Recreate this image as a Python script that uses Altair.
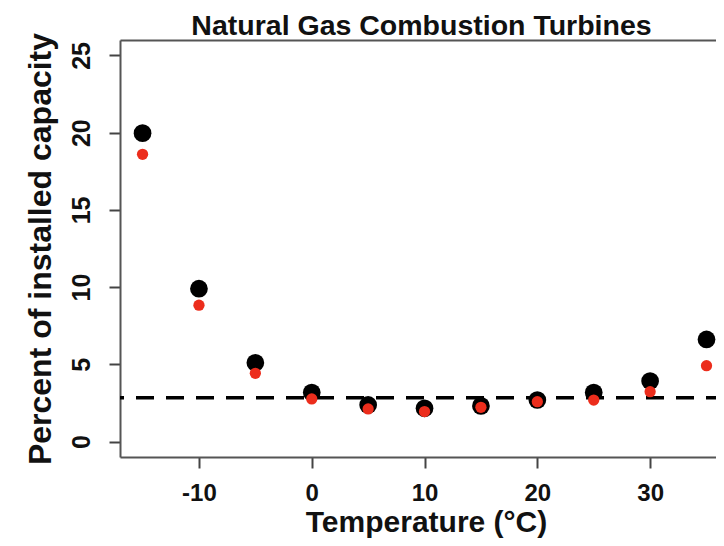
import altair as alt
import pandas as pd

# Data
temps = [-15, -10, -5, 0, 5, 10, 15, 20, 25, 30, 35]
black_vals = [19.97, 9.9, 5.1, 3.17, 2.37, 2.15, 2.31, 2.69, 3.17, 3.92, 6.61]
red_vals = [18.6, 8.83, 4.42, 2.76, 2.11, 1.94, 2.22, 2.58, 2.69, 3.23, 4.91]
baseline_val = [2.84]
x_ticks = [-10, 0, 10, 20, 30]
y_ticks = [0, 5, 10, 15, 20, 25]

df = pd.DataFrame({"temp": temps, "black": black_vals, "red": red_vals})
base_df = pd.DataFrame({"level": baseline_val})

FONT = "Liberation Sans"
AXIS_GRAY = "#555555"
TXT = "#111111"

xscale = alt.Scale(domain=[-17, 36.55], nice=False, zero=False)
yscale = alt.Scale(domain=[-1, 26], nice=False, zero=False)

x_bottom_axis = alt.Axis(
    values=x_ticks, orient="bottom", grid=False, title="Temperature (°C)",
    labelExpr="'' + datum.value",
    domainColor=AXIS_GRAY, domainWidth=2, tickColor="#444444", tickWidth=2, tickSize=11,
    labelFont=FONT, labelFontSize=24, labelFontWeight="bold", labelColor=TXT,
    labelPadding=13, labelBaseline="top", labelFlush=False,
    titleFont=FONT, titleFontSize=30, titleFontWeight="bold", titleColor=TXT,
    titleX=306, titleY=74, titleBaseline="alphabetic", titleAlign="center",
)

# top border of the box, carrying the chart title
x_top_axis = alt.Axis(
    orient="top", grid=False, labels=False, ticks=False,
    title="Natural Gas Combustion Turbines",
    domainColor=AXIS_GRAY, domainWidth=2,
    titleFont=FONT, titleFontSize=28.5, titleFontWeight="bold", titleColor=TXT,
    titleX=301, titleY=-6, titleBaseline="alphabetic", titleAlign="center",
)

y_axis = alt.Axis(
    orient="left", values=y_ticks, grid=False, title="Percent of installed capacity",
    domainColor=AXIS_GRAY, domainWidth=2, tickColor="#444444", tickWidth=2, tickSize=11,
    labelFont=FONT, labelFontSize=25, labelFontWeight="bold", labelColor=TXT,
    labelAngle=270, labelAlign="center", labelBaseline="alphabetic", labelPadding=20,
    titleFont=FONT, titleFontSize=32, titleFontWeight="bold", titleColor=TXT,
    titleAngle=270, titleX=-70, titleY=208.5, titleBaseline="alphabetic", titleAlign="center",
)

rule = alt.Chart(base_df).mark_rule(
    color="black", strokeWidth=3.5, strokeDash=[18, 12], strokeCap="butt"
).encode(
    y=alt.Y("level:Q", scale=yscale, axis=y_axis)
)

black_pts = alt.Chart(df).mark_circle(
    color="black", size=314, opacity=1
).encode(
    x=alt.X("temp:Q", scale=xscale, axis=x_bottom_axis),
    y=alt.Y("black:Q", scale=yscale, axis=y_axis),
)

red_pts = alt.Chart(df).mark_circle(
    color="#EC2D1C", size=127, opacity=1
).encode(
    x=alt.X("temp:Q", scale=xscale, axis=x_top_axis),
    y=alt.Y("red:Q", scale=yscale, axis=y_axis),
)

chart = alt.layer(rule, black_pts, red_pts).resolve_axis(x="independent").properties(
    width=604,
    height=417,
    autosize=alt.AutoSizeParams(type="none"),
    padding={"left": 112, "top": 32, "right": -8, "bottom": 81},
    background="white",
).configure_view(stroke=None)

chart.save("out.html", embed_options={"renderer": "svg", "actions": False})
